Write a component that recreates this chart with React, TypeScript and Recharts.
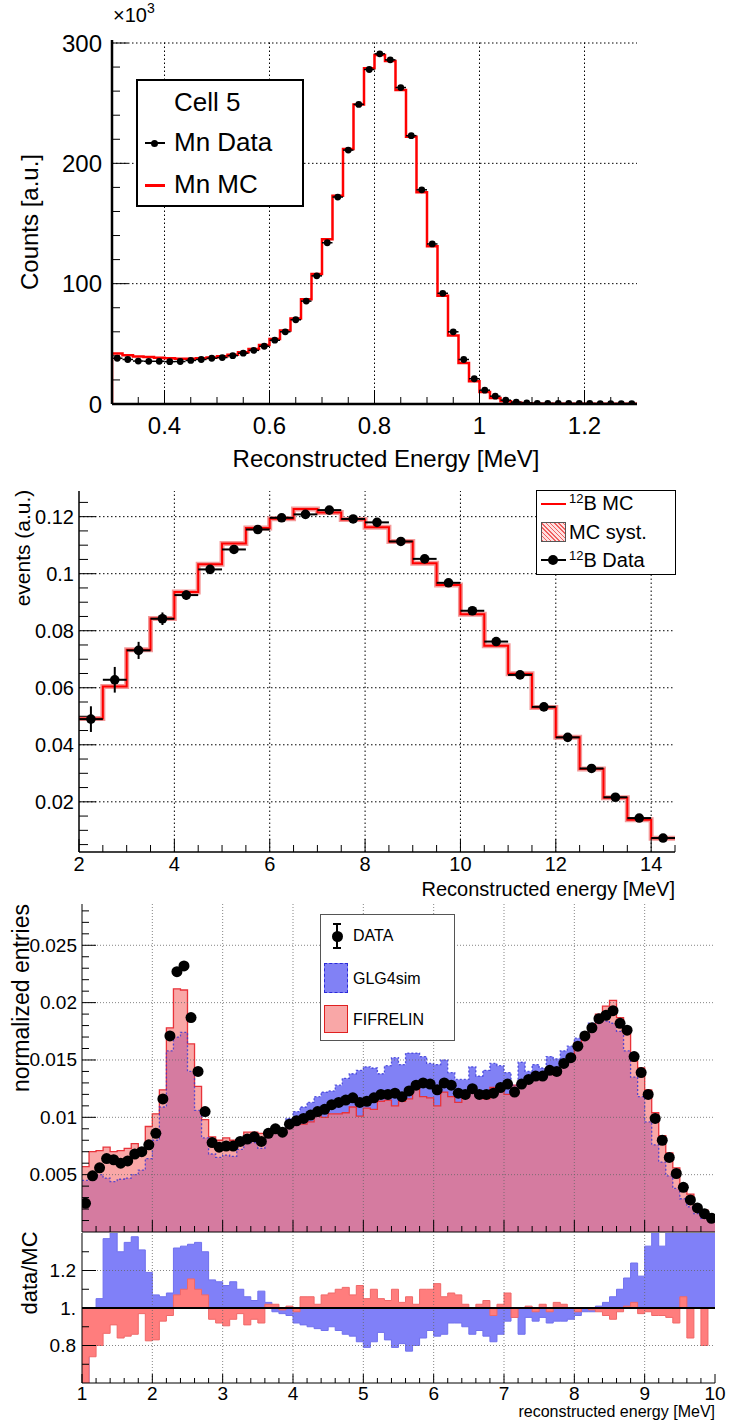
import React from "react";
import { ComposedChart, Line, Area, Scatter, XAxis, YAxis, ErrorBar, ReferenceLine } from "recharts";

const FONT = '"Liberation Sans", Arial, Helvetica, sans-serif';

// ---------- panel 1: Mn peak, cell 5 (0.02 MeV bins from 0.3) ----------
const mnStart = 0.3;
const mnWidth = 0.02;
const mnData = [
  38, 37, 35.7, 35.5, 35.5, 35.2, 35.3, 36.2, 37, 38,
  38.6, 40.2, 42.2, 44.6, 48, 53, 60, 70, 85.5, 106.5,
  134, 172, 211, 249, 278, 291, 286, 263, 223, 178,
  133, 92, 60, 37, 21, 11.5, 6.5, 3.2, 1.6, 0.9,
  0.6, 0.5, 0.4, 0.4, 0.4, 0.4, 0.3, 0.3, 0.3, 0.3,
];
const mnMc = [
  42, 40.5, 39.5, 39, 38.5, 38, 37.6, 37.6, 38, 38.7,
  39.6, 41, 43, 45.7, 49, 54, 61, 71, 87, 108,
  137, 173, 212, 249, 279, 290, 285, 261, 222, 176,
  131, 90, 57, 34, 19, 10, 5, 2.2, 1, 0.5,
  0.3, 0.2, 0.2, 0.2, 0.2, 0.2, 0.2, 0.2, 0.2, 0.2,
];

// ---------- panel 2: 12B spectrum (0.5 MeV bins from 2) ----------
const bStart = 2;
const bWidth = 0.5;
const b12Mc = [
  0.0492, 0.0604, 0.0733, 0.0843, 0.0936, 0.1033, 0.1106, 0.116, 0.1193, 0.1227,
  0.1215, 0.119, 0.1163, 0.1113, 0.1037, 0.096, 0.0858, 0.0747, 0.0649, 0.0531,
  0.0426, 0.0315, 0.0214, 0.0137, 0.0072,
];
const b12Data = [
  0.049, 0.0628, 0.0731, 0.0842, 0.0925, 0.1015, 0.1085, 0.1155, 0.1196, 0.1208,
  0.1223, 0.1192, 0.118, 0.1113, 0.1052, 0.0968, 0.087, 0.0762, 0.0645, 0.0533,
  0.0426, 0.0317, 0.0216, 0.0143, 0.0073,
];
const b12Err = [
  0.0045, 0.0045, 0.003, 0.0022, 0.0016, 0.0014, 0.0012, 0.0011, 0.001, 0.001,
  0.001, 0.001, 0.001, 0.001, 0.001, 0.0009, 0.0009, 0.0009, 0.0008, 0.0008,
  0.0008, 0.0008, 0.0007, 0.0007, 0.0006,
];

// ---------- panel 3: data vs GLG4sim / FIFRELIN (0.1 MeV bins from 1) ----------
const nStart = 1;
const nWidth = 0.1;
const nData = [
  0.0025, 0.0049, 0.0056, 0.0064, 0.0063, 0.006, 0.0062, 0.0068, 0.007, 0.0076,
  0.0086, 0.0116, 0.0171, 0.0227, 0.0232, 0.0187, 0.014, 0.0105, 0.0078, 0.0074,
  0.0075, 0.0075, 0.0079, 0.0081, 0.0083, 0.0079, 0.0086, 0.009, 0.0087, 0.0094,
  0.0097, 0.0099, 0.0102, 0.0105, 0.0107, 0.0111, 0.0113, 0.0115, 0.0117, 0.0113,
  0.0114, 0.0117, 0.012, 0.012, 0.0121, 0.0118, 0.0123, 0.0128, 0.013, 0.0129,
  0.0124, 0.013, 0.0128, 0.0121, 0.012, 0.0125, 0.012, 0.012, 0.0121, 0.0126,
  0.0129, 0.0122, 0.0129, 0.0133, 0.0136, 0.0136, 0.0141, 0.014, 0.0147, 0.0152,
  0.0162, 0.0171, 0.0178, 0.0186, 0.0189, 0.0193, 0.0182, 0.0176, 0.0153, 0.0139,
  0.012, 0.0099, 0.008, 0.0065, 0.0051, 0.0039, 0.0028, 0.0021, 0.0016, 0.0012,
];
const glg4sim = [
  0.0045, 0.0046, 0.005, 0.0047, 0.0044, 0.0046, 0.0047, 0.005, 0.0054, 0.0064,
  0.008, 0.0109, 0.0158, 0.017, 0.0174, 0.014, 0.0106, 0.0082, 0.0068, 0.0065,
  0.0067, 0.0066, 0.0072, 0.0078, 0.0078, 0.0073, 0.0083, 0.0091, 0.009, 0.0099,
  0.0105, 0.0109, 0.0113, 0.0118, 0.0122, 0.0123, 0.0128, 0.0134, 0.0138, 0.0141,
  0.0144, 0.0143, 0.0138, 0.0145, 0.0152, 0.0146, 0.0156, 0.0156, 0.0153, 0.0147,
  0.0146, 0.015, 0.0139, 0.0133, 0.0133, 0.0144, 0.0136, 0.0141, 0.0147, 0.0145,
  0.0139, 0.0128, 0.0148, 0.014, 0.0146, 0.0143, 0.0153, 0.0151, 0.0158, 0.0162,
  0.0169, 0.0174, 0.0182, 0.0184, 0.0184, 0.0182, 0.0175, 0.0158, 0.0135, 0.0118,
  0.0096, 0.0076, 0.0061, 0.0049, 0.0038, 0.0029, 0.0022, 0.0016, 0.0012, 0.0009,
];
const fifrelin = [
  0.0057, 0.007, 0.0071, 0.0074, 0.007, 0.0071, 0.0073, 0.0077, 0.0073, 0.0092,
  0.0103, 0.0124, 0.0178, 0.0212, 0.0211, 0.0164, 0.0127, 0.0098, 0.0083, 0.008,
  0.0082, 0.008, 0.0081, 0.0087, 0.0087, 0.0086, 0.0085, 0.0088, 0.0088, 0.0093,
  0.0097, 0.0094, 0.0096, 0.0101, 0.01, 0.0103, 0.0103, 0.0104, 0.0109, 0.0101,
  0.0108, 0.0107, 0.0114, 0.0115, 0.011, 0.0114, 0.0116, 0.0125, 0.0118, 0.0117,
  0.011, 0.0122, 0.0118, 0.0113, 0.0117, 0.0124, 0.0118, 0.0116, 0.0126, 0.0124,
  0.012, 0.0128, 0.0129, 0.0132, 0.0138, 0.0134, 0.0143, 0.0137, 0.0145, 0.0152,
  0.0165, 0.0171, 0.018, 0.019, 0.0197, 0.0202, 0.0187, 0.0175, 0.0149, 0.0143,
  0.0124, 0.0104, 0.0084, 0.0069, 0.0056, 0.0041, 0.0033, 0.0023, 0.0019, 0.0013,
];
const ratioGlg = [
  0.56, 1.0, 1.05, 1.37, 1.42, 1.3, 1.35, 1.38, 1.31, 1.19,
  1.07, 1.06, 1.08, 1.32, 1.33, 1.34, 1.35, 1.3, 1.15, 1.14,
  1.12, 1.14, 1.1, 1.06, 1.04, 1.09, 1.03, 0.98, 0.97, 0.96,
  0.92, 0.91, 0.9, 0.89, 0.88, 0.9, 0.88, 0.86, 0.85, 0.82,
  0.79, 0.82, 0.87, 0.83, 0.79, 0.81, 0.77, 0.8, 0.84, 0.88,
  0.85, 0.86, 0.92, 0.92, 0.9, 0.86, 0.88, 0.85, 0.82, 0.86,
  0.93, 0.95, 0.86, 0.95, 0.93, 0.95, 0.92, 0.93, 0.93, 0.94,
  0.96, 0.98, 0.98, 1.01, 1.03, 1.06, 1.1, 1.16, 1.24, 1.17,
  1.33, 1.42, 1.33, 1.42, 1.42, 1.42, 1.42, 1.42, 1.42, 1.42,
];
const ratioFif = [
  0.45, 0.74, 0.8, 0.865, 0.91, 0.84, 0.85, 0.86, 0.97, 0.825,
  0.83, 0.93, 0.96, 1.07, 1.1, 1.155, 1.1, 1.07, 0.94, 0.92,
  0.905, 0.94, 0.97, 0.91, 0.94, 0.92, 1.02, 1.02, 0.99, 1.01,
  0.98, 1.06, 1.06, 1.02, 1.07, 1.08, 1.1, 1.11, 1.07, 1.12,
  1.05, 1.1, 1.05, 1.04, 1.1, 1.03, 1.06, 1.02, 1.1, 1.1,
  1.13, 1.06, 1.08, 1.07, 1.02, 1.0, 1.02, 1.04, 0.96, 1.02,
  1.08, 0.95, 1.0, 1.01, 0.98, 1.02, 0.98, 1.03, 1.02, 1.0,
  0.98, 1.0, 0.99, 0.98, 0.96, 0.94, 0.98, 1.01, 1.03, 0.97,
  0.98, 0.96, 0.96, 0.95, 0.92, 1.06, 0.84, 1.0, 0.8, 1.0,
];

// ---------- helpers ----------
const r6 = (v: number) => Math.round(v * 1e6) / 1e6;
const range = (a: number, b: number, s: number) => {
  const out: number[] = [];
  for (let v = a; v <= b + s / 1000; v += s) out.push(r6(v));
  return out;
};
// histogram outline: one point per low edge, plus the last upper edge
const steps = (vals: number[], start: number, w: number) => [
  ...vals.map((y, i) => ({ x: r6(start + i * w), y })),
  { x: r6(start + vals.length * w), y: vals[vals.length - 1] },
];
const points = (vals: number[], start: number, w: number, errs?: number[]) =>
  vals.map((y, i) => ({ x: r6(start + (i + 0.5) * w), y, ex: w / 2, ey: errs ? errs[i] : 0 }));

type TickSpec = {
  side: "bottom" | "top" | "left" | "right";
  majors: number[];
  major: number;
  minor: number;
  width?: number;
  fmt?: (v: number) => string;
  gap?: number;
  size?: number;
};

// ROOT style ticks: drawn inward, labels only on majors
function ticker(s: TickSpec) {
  return (p: any) => {
    const x = Number(p.x);
    const y = Number(p.y);
    const v = Number(p.payload?.value);
    const isMajor = s.majors.some((m) => Math.abs(m - v) < 1e-7);
    const len = isMajor ? s.major : s.minor;
    let x2 = x;
    let y2 = y;
    if (s.side === "bottom") y2 = y - len;
    if (s.side === "top") y2 = y + len;
    if (s.side === "left") x2 = x + len;
    if (s.side === "right") x2 = x - len;
    let lbl = null;
    if (isMajor && s.fmt) {
      if (s.side === "left")
        lbl = (
          <text x={x - (s.gap ?? 5)} y={y} textAnchor="end" dominantBaseline="central" fontSize={s.size} fill="#000">
            {s.fmt(v)}
          </text>
        );
      if (s.side === "bottom")
        lbl = (
          <text x={x} y={y + (s.gap ?? 15)} textAnchor="middle" dominantBaseline="central" fontSize={s.size} fill="#000">
            {s.fmt(v)}
          </text>
        );
    }
    return (
      <g>
        <line x1={x} y1={y} x2={x2} y2={y2} stroke="#000" strokeWidth={s.width ?? 1} />
        {lbl}
      </g>
    );
  };
}

type FrameSpec = {
  xDomain: [number, number];
  yDomain: [number, number];
  xTicks: number[];
  yTicks: number[];
  xMajors: number[];
  yMajors: number[];
  xFmt?: (v: number) => string;
  yFmt?: (v: number) => string;
  xGap: number;
  yGap: number;
  size: number;
  xLen: [number, number];
  yLen: [number, number];
  bottomH: number;
  leftW: number;
  frameW: number;
};

function frameAxes(f: FrameSpec) {
  const line = { stroke: "#000", strokeWidth: f.frameW };
  const common = { type: "number" as const, allowDataOverflow: true, interval: 0 as const, tickLine: false, tickSize: 0, tickMargin: 0, axisLine: line };
  return [
    <XAxis key="xb" xAxisId="b" dataKey="x" domain={f.xDomain} ticks={f.xTicks} height={f.bottomH} {...common}
      tick={ticker({ side: "bottom", majors: f.xMajors, major: f.xLen[0], minor: f.xLen[1], fmt: f.xFmt, gap: f.xGap, size: f.size })} />,
    <XAxis key="xt" xAxisId="t" orientation="top" dataKey="x" domain={f.xDomain} ticks={f.xTicks} height={0} {...common}
      tick={ticker({ side: "top", majors: f.xMajors, major: f.xLen[0], minor: f.xLen[1] })} />,
    <YAxis key="yl" yAxisId="l" domain={f.yDomain} ticks={f.yTicks} width={f.leftW} {...common}
      tick={ticker({ side: "left", majors: f.yMajors, major: f.yLen[0], minor: f.yLen[1], fmt: f.yFmt, gap: f.yGap, size: f.size })} />,
    <YAxis key="yr" yAxisId="r" orientation="right" domain={f.yDomain} ticks={f.yTicks} width={0} {...common}
      tick={ticker({ side: "right", majors: f.yMajors, major: f.yLen[0], minor: f.yLen[1] })} />,
  ];
}

function gridLines(xs: number[], ys: number[], color: string, dash: string, opacity = 1) {
  return [
    ...xs.map((v) => (
      <ReferenceLine key={"gx" + v} xAxisId="b" yAxisId="l" x={v} stroke={color} strokeDasharray={dash} strokeOpacity={opacity} />
    )),
    ...ys.map((v) => (
      <ReferenceLine key={"gy" + v} xAxisId="b" yAxisId="l" y={v} stroke={color} strokeDasharray={dash} strokeOpacity={opacity} />
    )),
  ];
}

const dot = (r: number) => (p: any) => <circle cx={p.cx} cy={p.cy} r={r} fill="#000" />;

const abs = (left: number, top: number, extra: React.CSSProperties = {}): React.CSSProperties => ({
  position: "absolute",
  left,
  top,
  whiteSpace: "nowrap",
  ...extra,
});
const vTitle = (cx: number, cy: number, size: number): React.CSSProperties => ({
  position: "absolute",
  left: cx,
  top: cy,
  fontSize: size,
  whiteSpace: "nowrap",
  transform: "translate(-50%, -50%) rotate(-90deg)",
});
const rowText = (left: number, cy: number, size: number): React.CSSProperties =>
  abs(left, cy - size * 0.6, { fontSize: size, lineHeight: `${size * 1.2}px` });

export default function App() {
  const mnMcLine = [{ x: mnStart, y: 0 }, ...steps(mnMc, mnStart, mnWidth)];
  const mnPts = points(mnData, mnStart, mnWidth);
  const bMcLine = steps(b12Mc, bStart, bWidth);
  const bPts = points(b12Data, bStart, bWidth, b12Err);
  const glgSteps = steps(glg4sim, nStart, nWidth);
  const fifSteps = steps(fifrelin, nStart, nWidth);
  const bothSteps = steps(glg4sim.map((g, i) => Math.min(g, fifrelin[i])), nStart, nWidth);
  const nPts = points(nData, nStart, nWidth);
  const rGlgSteps = steps(ratioGlg, nStart, nWidth);
  const rFifSteps = steps(ratioFif, nStart, nWidth);

  const fmt2 = (v: number) => String(+v.toFixed(3));

  return (
    <div style={{ position: "absolute", left: 0, top: 0, width: 730, height: 1422, background: "#fff", fontFamily: FONT, color: "#000", overflow: "hidden" }}>
      {/* ---------------- panel 1 ---------------- */}
      <div style={abs(0, 0)}>
        <ComposedChart width={730} height={470} margin={{ top: 40, right: 93, bottom: 0, left: 0 }}>
          {frameAxes({
            xDomain: [0.3, 1.3], yDomain: [0, 302.5],
            xTicks: range(0.35, 1.25, 0.05), yTicks: range(0, 300, 20),
            xMajors: [0.4, 0.6, 0.8, 1.0, 1.2], yMajors: [0, 100, 200, 300],
            xFmt: (v) => String(+v.toFixed(2)), yFmt: (v) => String(v),
            xGap: 21, yGap: 10, size: 24, xLen: [14, 7], yLen: [16, 8],
            bottomH: 66, leftW: 112, frameW: 2.5,
          })}
          {gridLines([0.4, 0.6, 0.8, 1.0, 1.2], [100, 200, 300], "#000", "1.5 2.5")}
          <Line xAxisId="b" yAxisId="l" data={mnMcLine} dataKey="y" type="stepAfter" stroke="#ff0000" strokeWidth={2.5} dot={false} isAnimationActive={false} />
          <Scatter xAxisId="b" yAxisId="l" data={mnPts} dataKey="y" fill="#000" shape={dot(3.4)} isAnimationActive={false}>
            <ErrorBar dataKey="ex" direction="x" width={0} stroke="#000" strokeWidth={1.5} isAnimationActive={false} />
          </Scatter>
        </ComposedChart>
      </div>
      <div style={abs(113, 4, { fontSize: 20 })}>
        ×10<span style={{ fontSize: 14, position: "relative", top: -9 }}>3</span>
      </div>
      <div style={vTitle(30, 222, 24)}>Counts [a.u.]</div>
      <div style={abs(386, 459, { fontSize: 24, transform: "translate(-50%, -50%)" })}>Reconstructed Energy [MeV]</div>
      {/* legend 1 */}
      <div style={abs(136, 79, { width: 168, height: 128, border: "2.5px solid #000", boxSizing: "border-box", background: "#fff" })} />
      <div style={rowText(174, 103, 26)}>Cell 5</div>
      <div style={abs(145, 142, { width: 20, height: 2, background: "#000" })} />
      <div style={abs(151, 140, { width: 7, height: 7, borderRadius: "50%", background: "#000" })} />
      <div style={rowText(174, 143, 26)}>Mn Data</div>
      <div style={abs(145, 184, { width: 20, height: 2.5, background: "#ff0000" })} />
      <div style={rowText(174, 185, 26)}>Mn MC</div>

      {/* ---------------- panel 2 ---------------- */}
      <div style={abs(0, 470)}>
        <ComposedChart width={730} height={430} margin={{ top: 21, right: 55, bottom: 0, left: 0 }}>
          {frameAxes({
            xDomain: [2, 14.5], yDomain: [0.0024, 0.129],
            xTicks: range(2, 14.5, 0.5), yTicks: range(0.005, 0.125, 0.005),
            xMajors: [2, 4, 6, 8, 10, 12, 14], yMajors: [0.02, 0.04, 0.06, 0.08, 0.1, 0.12],
            xFmt: (v) => String(v), yFmt: fmt2,
            xGap: 12, yGap: 5, size: 20, xLen: [13, 7], yLen: [17, 9],
            bottomH: 48, leftW: 79, frameW: 1.5,
          })}
          {gridLines([4, 6, 8, 10, 12, 14], [0.02, 0.04, 0.06, 0.08, 0.1, 0.12], "#000", "1.5 2.5")}
          <Line xAxisId="b" yAxisId="l" data={bMcLine} dataKey="y" type="stepAfter" stroke="#f49a9a" strokeWidth={5} dot={false} isAnimationActive={false} />
          <Line xAxisId="b" yAxisId="l" data={bMcLine} dataKey="y" type="stepAfter" stroke="#ff0000" strokeWidth={2} dot={false} isAnimationActive={false} />
          <Scatter xAxisId="b" yAxisId="l" data={bPts} dataKey="y" fill="#000" shape={dot(4.8)} isAnimationActive={false}>
            <ErrorBar dataKey="ex" direction="x" width={0} stroke="#000" strokeWidth={2} isAnimationActive={false} />
            <ErrorBar dataKey="ey" direction="y" width={0} stroke="#000" strokeWidth={2} isAnimationActive={false} />
          </Scatter>
        </ComposedChart>
      </div>
      <div style={vTitle(23, 548, 21)}>events (a.u.)</div>
      <div style={abs(675, 889, { fontSize: 20, transform: "translate(-100%, -50%)" })}>Reconstructed energy [MeV]</div>
      {/* legend 2 */}
      <div style={abs(536, 490, { width: 140, height: 85, border: "1px solid #000", boxSizing: "border-box", background: "#fff" })} />
      <div style={abs(541, 503, { width: 25, height: 2, background: "#ff0000" })} />
      <div style={rowText(569, 503, 20)}>
        <span style={{ fontSize: 13, position: "relative", top: -7 }}>12</span>B MC
      </div>
      <div style={abs(541, 522, {
        width: 25, height: 20, border: "1px solid #555", boxSizing: "border-box",
        background: "repeating-linear-gradient(45deg, #f06060 0 1px, #fde0e0 1px 3px)",
      })} />
      <div style={rowText(569, 532, 20)}>MC syst.</div>
      <div style={abs(541, 559, { width: 25, height: 2, background: "#000" })} />
      <div style={abs(548, 555, { width: 10, height: 10, borderRadius: "50%", background: "#000" })} />
      <div style={rowText(569, 560, 20)}>
        <span style={{ fontSize: 13, position: "relative", top: -7 }}>12</span>B Data
      </div>

      {/* ---------------- panel 3, upper pad ---------------- */}
      <div style={abs(0, 880)}>
        <ComposedChart width={730} height={360} margin={{ top: 24, right: 15, bottom: 0, left: 0 }}>
          {frameAxes({
            xDomain: [1, 10], yDomain: [0, 0.0286],
            xTicks: range(1.2, 9.8, 0.2), yTicks: range(0.001, 0.028, 0.001),
            xMajors: [2, 3, 4, 5, 6, 7, 8, 9], yMajors: [0.005, 0.01, 0.015, 0.02, 0.025],
            yFmt: (v) => String(+v.toFixed(4)),
            xGap: 12, yGap: 5, size: 19, xLen: [12, 6], yLen: [14, 7],
            bottomH: 8, leftW: 82, frameW: 1,
          })}
          <Area xAxisId="b" yAxisId="l" data={glgSteps} dataKey="y" type="stepAfter" baseValue={0} fill="#8181f5" fillOpacity={1} stroke="none" isAnimationActive={false} />
          <Area xAxisId="b" yAxisId="l" data={fifSteps} dataKey="y" type="stepAfter" baseValue={0} fill="#f9a7a7" fillOpacity={1} stroke="none" isAnimationActive={false} />
          <Area xAxisId="b" yAxisId="l" data={bothSteps} dataKey="y" type="stepAfter" baseValue={0} fill="#d57ba0" fillOpacity={1} stroke="none" isAnimationActive={false} />
          <Line xAxisId="b" yAxisId="l" data={fifSteps} dataKey="y" type="stepAfter" stroke="#e8333a" strokeWidth={1.3} dot={false} isAnimationActive={false} />
          <Line xAxisId="b" yAxisId="l" data={glgSteps} dataKey="y" type="stepAfter" stroke="#3434d6" strokeOpacity={0.8} strokeWidth={1.3} strokeDasharray="2 2" dot={false} isAnimationActive={false} />
          {gridLines([2, 3, 4, 5, 6, 7, 8, 9], [0.005, 0.01, 0.015, 0.02, 0.025], "#666", "1 2", 0.8)}
          <Scatter xAxisId="b" yAxisId="l" data={nPts} dataKey="y" fill="#000" shape={dot(5.5)} isAnimationActive={false} />
        </ComposedChart>
      </div>
      <div style={vTitle(21, 998, 23)}>normalized entries</div>
      {/* legend 3 */}
      <div style={abs(320, 914, { width: 135, height: 127, border: "1px solid #555", boxSizing: "border-box", background: "#fff" })} />
      <div style={abs(336, 923, { width: 1.5, height: 26, background: "#000" })} />
      <div style={abs(333, 923, { width: 8, height: 1.5, background: "#000" })} />
      <div style={abs(333, 947, { width: 8, height: 1.5, background: "#000" })} />
      <div style={abs(331.5, 930.5, { width: 11, height: 11, borderRadius: "50%", background: "#000" })} />
      <div style={rowText(353, 936, 16)}>DATA</div>
      <div style={abs(324, 963, { width: 24, height: 30, background: "#8181f5", border: "1.5px dashed #2a2ad8", boxSizing: "border-box" })} />
      <div style={rowText(353, 979, 16)}>GLG4sim</div>
      <div style={abs(324, 1005, { width: 24, height: 28, background: "#f9a7a7", border: "1.5px solid #e02020", boxSizing: "border-box" })} />
      <div style={rowText(353, 1020, 16)}>FIFRELIN</div>

      {/* ---------------- panel 3, ratio pad ---------------- */}
      <div style={abs(0, 1225)}>
        <ComposedChart width={730} height={197} margin={{ top: 8, right: 15, bottom: 0, left: 0 }}>
          {frameAxes({
            xDomain: [1, 10], yDomain: [0.6, 1.4],
            xTicks: range(1, 10, 0.2), yTicks: range(0.7, 1.3, 0.1),
            xMajors: [1, 2, 3, 4, 5, 6, 7, 8, 9, 10], yMajors: [0.8, 1.0, 1.2],
            xFmt: (v) => String(v), yFmt: (v) => (Math.abs(v - 1) < 1e-6 ? "1." : v.toFixed(1)),
            xGap: 10, yGap: 6, size: 19, xLen: [9, 5], yLen: [14, 7],
            bottomH: 39, leftW: 82, frameW: 1,
          })}
          <Area xAxisId="b" yAxisId="l" data={rGlgSteps} dataKey="y" type="stepAfter" baseValue={1} fill="#8080f8" fillOpacity={1} stroke="#7070ee" strokeWidth={1} isAnimationActive={false} />
          <Area xAxisId="b" yAxisId="l" data={rFifSteps} dataKey="y" type="stepAfter" baseValue={1} fill="#ff7d7d" fillOpacity={1} stroke="#f06868" strokeWidth={1} isAnimationActive={false} />
          {gridLines([2, 3, 4, 5, 6, 7, 8, 9], [0.8, 1.2], "#666", "1 2", 0.8)}
          <ReferenceLine xAxisId="b" yAxisId="l" y={1} stroke="#000" strokeWidth={2} />
        </ComposedChart>
      </div>
      <div style={vTitle(30, 1273, 22)}>data/MC</div>
      <div style={abs(715, 1412, { fontSize: 16, transform: "translate(-100%, -50%)" })}>reconstructed energy [MeV]</div>
    </div>
  );
}
